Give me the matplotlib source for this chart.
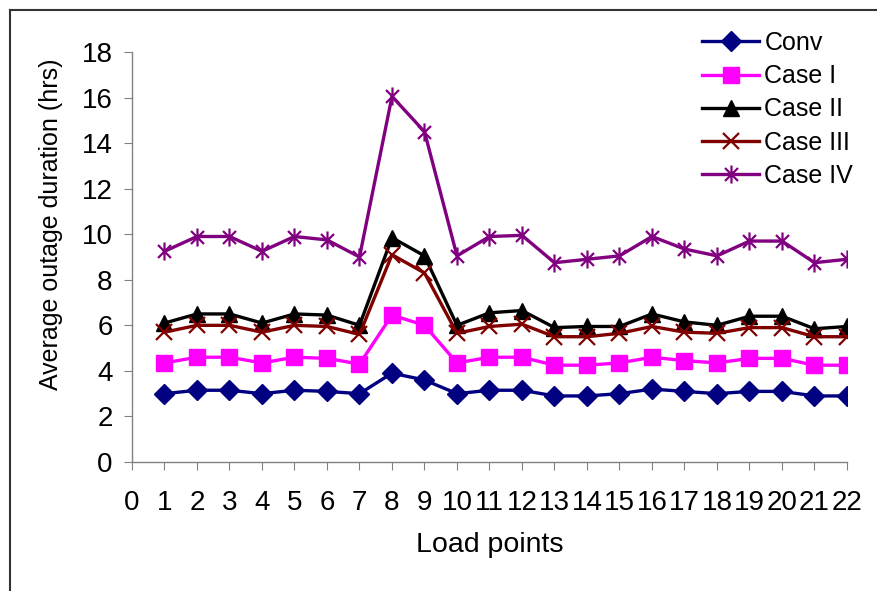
import matplotlib
matplotlib.use("Agg")
import matplotlib.pyplot as plt
from matplotlib.path import Path
from matplotlib.lines import Line2D

plt.rcParams['font.family'] = ['Liberation Sans', 'DejaVu Sans']

load_points = list(range(1, 23))
conv = [3.0, 3.15, 3.15, 3.0, 3.15, 3.1, 3.0, 3.9, 3.6, 3.0, 3.15, 3.15, 2.9, 2.9, 3.0, 3.2, 3.1, 3.0, 3.1, 3.1, 2.9, 2.9]
case1 = [4.35, 4.6, 4.6, 4.35, 4.6, 4.55, 4.3, 6.45, 6.0, 4.35, 4.6, 4.6, 4.25, 4.25, 4.35, 4.6, 4.45, 4.35, 4.55, 4.55, 4.25, 4.25]
case2 = [6.1, 6.5, 6.5, 6.1, 6.5, 6.45, 6.0, 9.85, 9.05, 6.0, 6.55, 6.65, 5.9, 5.95, 5.95, 6.5, 6.15, 6.0, 6.4, 6.4, 5.85, 5.95]
case3 = [5.7, 6.0, 6.0, 5.7, 6.0, 5.95, 5.6, 9.1, 8.3, 5.65, 5.95, 6.05, 5.5, 5.5, 5.65, 5.95, 5.7, 5.65, 5.9, 5.9, 5.5, 5.5]
case4 = [9.25, 9.9, 9.9, 9.25, 9.9, 9.75, 9.0, 16.05, 14.5, 9.05, 9.9, 9.95, 8.75, 8.9, 9.05, 9.9, 9.35, 9.05, 9.7, 9.7, 8.75, 8.9]

series = [
    ("Conv", conv, "#000080", "D", 10),
    ("Case I", case1, "#FF00FF", "s", 11),
    ("Case II", case2, "#000000", "^", 11),
    ("Case III", case3, "#800000", "x", 12),
    ("Case IV", case4, "#800080", "star", 13),
]

star = Path([(0, -1), (0, 1), (-0.72, -0.72), (0.72, 0.72), (-0.72, 0.72), (0.72, -0.72)],
            [Path.MOVETO, Path.LINETO, Path.MOVETO, Path.LINETO, Path.MOVETO, Path.LINETO])

W, H = 878, 591
fig = plt.figure(figsize=(W / 100, H / 100), dpi=100)
ax = fig.add_axes([132 / W, (H - 462) / H, (847 - 132) / W, (462 - 52) / H])

handles = []
for name, vals, col, mk, ms in series:
    marker = star if mk == "star" else mk
    mew = 1.6 if mk in ("x", "star") else 1
    h, = ax.plot(load_points, vals, color=col, lw=2.4, marker=marker, markersize=ms,
                 markerfacecolor=col, markeredgecolor=col, markeredgewidth=mew, label=name)
    handles.append(h)

ax.set_xlim(0, 22)
ax.set_ylim(0, 18)
ax.set_xticks(range(0, 23))
ax.set_yticks(range(0, 19, 2))
for s in ("top", "right"):
    ax.spines[s].set_visible(False)
for s in ("left", "bottom"):
    ax.spines[s].set_color("#808080")
    ax.spines[s].set_linewidth(1)
ax.tick_params(axis="both", direction="out", length=6, color="#808080", labelsize=20)
ax.tick_params(axis="x", pad=14)
ax.tick_params(axis="y", pad=8)
ax.set_xlabel("Load points", fontsize=20.5, labelpad=12)
ax.set_ylabel("Average outage duration (hrs)", fontsize=18)
ax.yaxis.set_label_coords((63 - 132) / 715, (462 - 224) / 410)

fig.legend(handles=handles, loc="upper left", bbox_to_anchor=(692 / W, 1 - 21 / H),
           frameon=False, fontsize=18, handlelength=2.3, handletextpad=0.2,
           labelspacing=0.37, borderaxespad=0)

fig.add_artist(Line2D([10 / W, 10 / W], [0, 1 - 10 / H], color="#333333", lw=1.5, transform=fig.transFigure))
fig.add_artist(Line2D([10 / W, 1], [1 - 10 / H, 1 - 10 / H], color="#333333", lw=1.5, transform=fig.transFigure))

fig.savefig("out.png", dpi=100)
